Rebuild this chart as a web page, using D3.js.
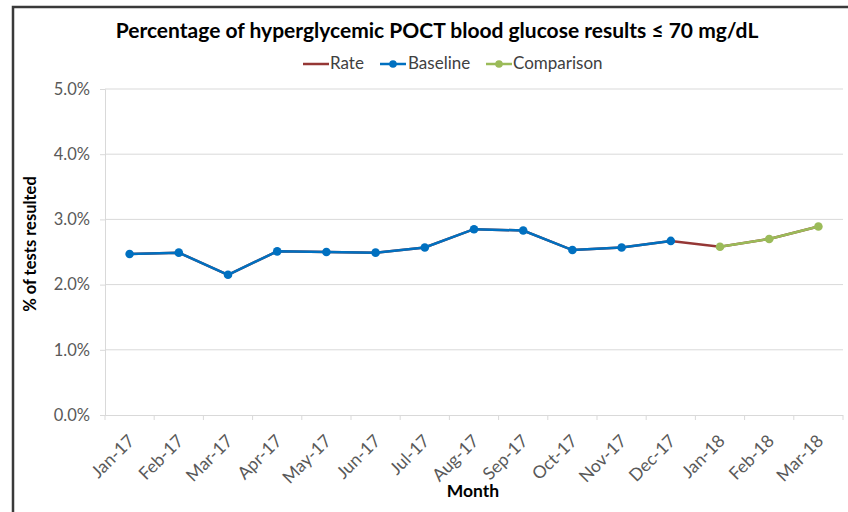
<!DOCTYPE html>
<html lang="en">
<head>
<meta charset="utf-8">
<title>Hyperglycemic POCT results</title>
<script src="https://d3js.org/d3.v7.min.js"></script>
<style>
  body { margin: 0; background: #fff; }
  text { font-family: Lato, "Liberation Sans", sans-serif; }
</style>
</head>
<body>
<div id="chart"></div>
<script>
var w = 848;
var h = 512;

// data
var months = ["Jan-17","Feb-17","Mar-17","Apr-17","May-17","Jun-17","Jul-17","Aug-17",
              "Sep-17","Oct-17","Nov-17","Dec-17","Jan-18","Feb-18","Mar-18"];
var rate = [2.47, 2.49, 2.15, 2.51, 2.50, 2.49, 2.57, 2.85, 2.83, 2.53, 2.57, 2.67, 2.58, 2.70, 2.89];
var baselineMonths = months.slice(0, 12);
var comparisonMonths = months.slice(12);
var yTicks = [0, 1, 2, 3, 4, 5];

var baseline = baselineMonths.map(function(m){ return {m: m, v: rate[months.indexOf(m)]}; });
var comparison = comparisonMonths.map(function(m){ return {m: m, v: rate[months.indexOf(m)]}; });
var rateData = months.map(function(m, i){ return {m: m, v: rate[i]}; });

var plot = {left: 105, right: 843, top: 89, bottom: 415};

var svg = d3.select("#chart").append("svg")
  .attr("width", w).attr("height", h);

// outer frame
svg.append("path")
  .attr("d", "M13," + h + " L13,7 L" + w + ",7")
  .attr("fill", "none").attr("stroke", "#3a3a3a").attr("stroke-width", 2.5);

var xScale = d3.scaleBand().domain(months).range([plot.left, plot.right]);
var yScale = d3.scaleLinear().domain([0, 5]).range([plot.bottom, plot.top]);
function cx(m){ return xScale(m) + xScale.bandwidth() / 2; }

// gridlines
svg.append("g").selectAll("line").data(yTicks.slice(1)).enter().append("line")
  .attr("x1", plot.left).attr("x2", plot.right)
  .attr("y1", function(d){ return yScale(d); }).attr("y2", function(d){ return yScale(d); })
  .attr("stroke", "#d9d9d9").attr("stroke-width", 1);

// y axis
var yAxis = svg.append("g")
  .attr("transform", "translate(" + plot.left + ",0)")
  .call(d3.axisLeft(yScale).tickValues(yTicks).tickSize(5).tickPadding(10)
    .tickFormat(function(d){ return d.toFixed(1) + "%"; }));
yAxis.selectAll("line, path").attr("stroke", "#d9d9d9");
yAxis.selectAll("text").attr("font-size", 16.5).attr("fill", "#595959")
  .style("font-family", "Lato, sans-serif");

// x axis
var xAxis = svg.append("g")
  .attr("transform", "translate(0," + plot.bottom + ")")
  .call(d3.axisBottom(xScale).tickSize(0).tickFormat(""));
xAxis.select("path").attr("stroke", "#d9d9d9").attr("d", "M" + plot.left + ",0.5H" + plot.right);
svg.append("g").selectAll("line")
  .data(months.concat(["end"])).enter().append("line")
  .attr("x1", function(d, i){ return i < months.length ? xScale(d) : plot.right; })
  .attr("x2", function(d, i){ return i < months.length ? xScale(d) : plot.right; })
  .attr("y1", plot.bottom).attr("y2", plot.bottom + 5)
  .attr("stroke", "#d9d9d9");

svg.append("g").selectAll("text").data(months).enter().append("text")
  .attr("transform", function(d){ return "translate(" + (cx(d) + 6) + "," + (plot.bottom + 27) + ") rotate(-45)"; })
  .attr("text-anchor", "end")
  .attr("font-size", 17.5).attr("fill", "#595959")
  .text(function(d){ return d; });

// lines
var line = d3.line().x(function(d){ return cx(d.m); }).y(function(d){ return yScale(d.v); });

svg.append("path").datum(rateData).attr("d", line)
  .attr("fill", "none").attr("stroke", "#953735").attr("stroke-width", 2.5);
svg.append("path").datum(baseline).attr("d", line)
  .attr("fill", "none").attr("stroke", "#0070c0").attr("stroke-width", 2.5);
svg.append("path").datum(comparison).attr("d", line)
  .attr("fill", "none").attr("stroke", "#9bbb59").attr("stroke-width", 2.5);

svg.append("g").selectAll("circle").data(baseline).enter().append("circle")
  .attr("cx", function(d){ return cx(d.m); }).attr("cy", function(d){ return yScale(d.v); })
  .attr("r", 4.3).attr("fill", "#0070c0");
svg.append("g").selectAll("circle").data(comparison).enter().append("circle")
  .attr("cx", function(d){ return cx(d.m); }).attr("cy", function(d){ return yScale(d.v); })
  .attr("r", 4.3).attr("fill", "#9bbb59");

// title
svg.append("text").attr("x", 437).attr("y", 38).attr("text-anchor", "middle")
  .attr("font-size", 21).attr("font-weight", "bold").attr("fill", "#000")
  .text("Percentage of hyperglycemic POCT blood glucose results \u2264 70 mg/dL");

// legend
var legend = [
  {name: "Rate", color: "#953735", marker: false, x: 303, tx: 330},
  {name: "Baseline", color: "#0070c0", marker: true, x: 380, tx: 408},
  {name: "Comparison", color: "#9bbb59", marker: true, x: 486, tx: 513}
];
var lg = svg.append("g").selectAll("g").data(legend).enter().append("g");
lg.append("line").attr("x1", function(d){ return d.x; }).attr("x2", function(d){ return d.x + 26; })
  .attr("y1", 64).attr("y2", 64)
  .attr("stroke", function(d){ return d.color; }).attr("stroke-width", 2.5);
lg.filter(function(d){ return d.marker; }).append("circle")
  .attr("cx", function(d){ return d.x + 13; }).attr("cy", 64).attr("r", 3.8)
  .attr("fill", function(d){ return d.color; });
lg.append("text").attr("x", function(d){ return d.tx; }).attr("y", 69)
  .attr("font-size", 17).attr("fill", "#404040")
  .text(function(d){ return d.name; });

// axis titles
svg.append("text").attr("transform", "translate(36,244) rotate(-90)")
  .attr("text-anchor", "middle").attr("font-size", 16.5).attr("font-weight", "bold")
  .text("% of tests resulted");
svg.append("text").attr("x", 473).attr("y", 497).attr("text-anchor", "middle")
  .attr("font-size", 17.5).attr("font-weight", "bold")
  .text("Month");
</script>
</body>
</html>
